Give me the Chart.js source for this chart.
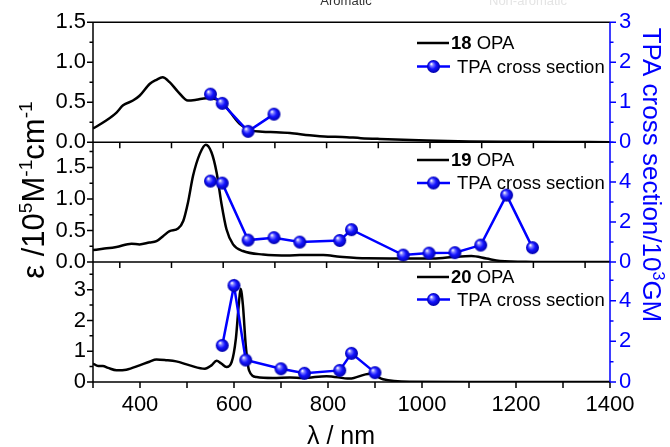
<!DOCTYPE html>
<html>
<head>
<meta charset="utf-8">
<title>OPA e TPA 18-20</title>
<script src="https://cdn.jsdelivr.net/npm/chart.js"></script>
<style>
  html, body { margin: 0; padding: 0; background: #fff; }
</style>
</head>
<body>
<canvas id="grafico" width="670" height="447"></canvas>
<script>
// eixo x (nm)
const xMin = 300, xMax = 1400;
const xTickLabels = [400, 600, 800, 1000, 1200, 1400];
const xMinorTicks = [300, 500, 700, 900, 1100, 1300];
const upperPanelTicks = [357, 467, 577, 687, 797, 907, 1017, 1127, 1237, 1347];

// 18
const opa18Wl  = [300, 328, 350, 364, 385, 399, 421, 435, 448, 463, 481, 502, 520, 541, 570, 591, 612, 634, 660, 690, 719, 761, 800, 830, 870, 910, 1010, 1100, 1200, 1300, 1400];
const opa18Eps = [0.17, 0.27, 0.37, 0.46, 0.52, 0.58, 0.73, 0.78, 0.81, 0.75, 0.63, 0.52, 0.53, 0.55, 0.52, 0.38, 0.23, 0.15, 0.13, 0.125, 0.115, 0.085, 0.068, 0.065, 0.05, 0.04, 0.02, 0.008, 0.004, 0.001, 0];
const tpa18Wl  = [550, 575, 630, 685];
const tpa18Gm  = [1.2, 0.97, 0.27, 0.7];

// 19
const opa19Wl  = [300, 321, 350, 382, 399, 420, 435, 449, 463, 481, 492, 502, 513, 527, 540, 552, 563, 573, 584, 598, 619, 662, 719, 740, 790, 825, 882, 953, 1024, 1073, 1105, 1137, 1166, 1237, 1300, 1400];
const opa19Eps = [0.19, 0.21, 0.24, 0.29, 0.28, 0.31, 0.33, 0.41, 0.49, 0.53, 0.65, 0.94, 1.37, 1.71, 1.86, 1.74, 1.42, 0.94, 0.52, 0.28, 0.175, 0.12, 0.105, 0.11, 0.11, 0.085, 0.06, 0.058, 0.055, 0.085, 0.095, 0.055, 0.018, 0.003, 0, 0];
const tpa19Wl  = [550, 575, 630, 685, 740, 825, 850, 960, 1015, 1070, 1125, 1180, 1235];
const tpa19Gm  = [4.05, 3.95, 1.1, 1.22, 1.0, 1.08, 1.62, 0.35, 0.45, 0.47, 0.85, 3.35, 0.72];

// 20
const opa20Wl  = [300, 311, 321, 332, 350, 371, 399, 420, 435, 455, 477, 506, 538, 552, 563, 573, 584, 595, 604, 610, 614, 619, 625, 632, 648, 683, 719, 747, 797, 846, 889, 917, 974, 1100, 1400];
const opa20Eps = [0.6, 0.52, 0.52, 0.46, 0.38, 0.4, 0.54, 0.66, 0.73, 0.71, 0.67, 0.54, 0.43, 0.54, 0.69, 0.6, 0.49, 0.65, 1.41, 2.49, 3.03, 2.49, 1.19, 0.38, 0.16, 0.13, 0.15, 0.13, 0.19, 0.11, 0.27, 0.09, 0.01, 0.003, 0];
const tpa20Wl  = [575, 600, 625, 700, 750, 825, 850, 900];
const tpa20Gm  = [1.8, 4.75, 1.08, 0.65, 0.43, 0.57, 1.41, 0.46];

// limites e marcas dos eixos y (esquerda: OPA, direita: TPA)
const leftMax    = [1.5, 1.9, 3.9];
const rightMax   = [3, 6, 5.9];
const leftTicks  = [[0, 0.5, 1.0, 1.5], [0, 0.5, 1.0, 1.5], [0, 1, 2, 3]];
const leftMinor  = [0.25, 0.25, 0.5];
const rightTicks = [[0, 1, 2, 3], [0, 2, 4], [0, 2, 4]];
const rightMinor = [0.5, 1, 1];
const compostos  = ['18', '19', '20'];

const FONTE = "'Liberation Sans', Arial, sans-serif";
const AZUL = '#0000ff';

function esfera(r) {
    const c = document.createElement('canvas');
    const d = Math.ceil(r * 2 + 2);
    c.width = d; c.height = d;
    const g = c.getContext('2d');
    const m = d / 2;
    const grad = g.createRadialGradient(m - r * 0.35, m - r * 0.4, r * 0.05, m, m, r);
    grad.addColorStop(0, '#ffffff');
    grad.addColorStop(0.22, '#8080ff');
    grad.addColorStop(0.55, '#1414ff');
    grad.addColorStop(1, '#0000a8');
    g.fillStyle = grad;
    g.beginPath(); g.arc(m, m, r, 0, Math.PI * 2); g.fill();
    return c;
}
const bola = esfera(6.5);

function pontos(xs, ys) {
    return xs.map((x, i) => ({ x: x, y: ys[i] }));
}

const opaData = [pontos(opa18Wl, opa18Eps), pontos(opa19Wl, opa19Eps), pontos(opa20Wl, opa20Eps)];
const tpaData = [pontos(tpa18Wl, tpa18Gm), pontos(tpa19Wl, tpa19Gm), pontos(tpa20Wl, tpa20Gm)];

const datasets = [];
for (let i = 0; i < 3; i++) {
    datasets.push({
        label: 'TPA cross section',
        data: tpaData[i],
        yAxisID: 'yR' + i,
        borderColor: AZUL,
        borderWidth: 2.5,
        pointStyle: bola,
        pointRadius: 6.5,
        order: 0
    });
    datasets.push({
        label: compostos[i] + ' OPA',
        data: opaData[i],
        yAxisID: 'yL' + i,
        borderColor: '#000',
        borderWidth: 2.5,
        pointRadius: 0,
        cubicInterpolationMode: 'monotone',
        order: 1
    });
}

function eixoY(lado, i) {
    const esq = lado === 'left';
    const marcas = esq ? leftTicks[i] : rightTicks[i];
    return {
        type: 'linear',
        position: lado,
        stack: esq ? 'L' : 'R',
        stackWeight: 1,
        weight: esq ? 3 - i : i + 1,
        min: 0,
        max: esq ? leftMax[i] : rightMax[i],
        grid: { display: false, drawTicks: false },
        border: { display: false },
        ticks: {
            color: esq ? '#000' : AZUL,
            font: { family: FONTE, size: 22 },
            padding: esq ? 7 : 9,
            autoSkip: false,
            includeBounds: false,
            callback: v => (esq && i < 2) ? v.toFixed(1) : String(v)
        },
        afterBuildTicks: s => { s.ticks = marcas.map(v => ({ value: v })); },
        afterFit: s => { s.width = esq ? 93 : 60; }
    };
}

const scales = {
    x: {
        type: 'linear',
        position: 'bottom',
        min: xMin,
        max: xMax,
        grid: { display: false, drawTicks: false },
        border: { display: false },
        ticks: {
            color: '#000', font: { family: FONTE, size: 22 }, padding: 10,
            autoSkip: false, maxRotation: 0,
            callback: v => String(v)
        },
        afterBuildTicks: s => { s.ticks = xTickLabels.map(v => ({ value: v })); },
        afterFit: s => { s.height = 65; }
    }
};
for (let i = 0; i < 3; i++) {
    scales['yL' + i] = eixoY('left', i);
    scales['yR' + i] = eixoY('right', i);
}

// texto com sobrescritos: partes [texto, sobrescrito?]
function textoRico(ctx, partes, tam) {
    let w = 0;
    partes.forEach(p => {
        ctx.font = (p[1] ? tam * 0.62 : tam) + 'px ' + FONTE;
        w += ctx.measureText(p[0]).width;
    });
    let x = -w / 2;
    partes.forEach(p => {
        ctx.font = (p[1] ? tam * 0.62 : tam) + 'px ' + FONTE;
        ctx.fillText(p[0], x, p[1] ? -tam * 0.38 : 0);
        x += ctx.measureText(p[0]).width;
    });
}

const molduras = {
    id: 'molduras',
    afterDraw(chart) {
        const ctx = chart.ctx;
        const sx = chart.scales.x;
        const L = chart.chartArea.left, R = chart.chartArea.right;
        ctx.save();
        ctx.lineWidth = 1.5;
        for (let i = 0; i < 3; i++) {
            const yl = chart.scales['yL' + i], yr = chart.scales['yR' + i];
            const topo = yl.getPixelForValue(leftMax[i]);
            const base = yl.getPixelForValue(0);
            ctx.strokeStyle = '#000';
            ctx.beginPath();
            if (i === 0) { ctx.moveTo(L, topo); ctx.lineTo(R, topo); }
            ctx.moveTo(L, base); ctx.lineTo(R, base);
            ctx.moveTo(L, topo); ctx.lineTo(L, base);
            // marcas esquerda
            for (let v = 0; v <= leftMax[i] + 1e-9; v += leftMinor[i]) {
                const y = yl.getPixelForValue(v);
                const maior = leftTicks[i].some(t => Math.abs(t - v) < 1e-9);
                ctx.moveTo(L, y); ctx.lineTo(L - (maior ? 6 : 3.5), y);
            }
            // marcas inferiores
            const marcasX = i === 2 ? xTickLabels.concat(xMinorTicks) : upperPanelTicks;
            marcasX.forEach(v => {
                const x = sx.getPixelForValue(v);
                ctx.moveTo(x, base); ctx.lineTo(x, base + 6);
            });
            ctx.stroke();
            // eixo direito
            ctx.strokeStyle = AZUL;
            ctx.beginPath();
            ctx.moveTo(R, topo); ctx.lineTo(R, base);
            for (let v = 0; v <= rightMax[i] + 1e-9; v += rightMinor[i]) {
                const y = yr.getPixelForValue(v);
                const maior = rightTicks[i].some(t => Math.abs(t - v) < 1e-9);
                ctx.moveTo(R, y); ctx.lineTo(R + (maior ? 6 : 3.5), y);
            }
            ctx.stroke();

            // legenda
            const l1 = [43, 160, 277][i], l2 = [66.5, 183, 299.5][i];
            ctx.lineWidth = 2.5;
            ctx.strokeStyle = '#000';
            ctx.beginPath(); ctx.moveTo(417, l1); ctx.lineTo(449, l1); ctx.stroke();
            ctx.strokeStyle = AZUL;
            ctx.beginPath(); ctx.moveTo(417, l2); ctx.lineTo(450, l2); ctx.stroke();
            ctx.drawImage(bola, 433.5 - bola.width / 2, l2 - bola.height / 2);
            ctx.lineWidth = 1.5;
            ctx.fillStyle = '#000';
            ctx.textBaseline = 'middle';
            ctx.textAlign = 'left';
            ctx.font = 'bold 18.5px ' + FONTE;
            ctx.fillText(compostos[i], 451, l1 + 1);
            const wNum = ctx.measureText(compostos[i]).width;
            ctx.font = '18.5px ' + FONTE;
            ctx.fillText(' OPA', 451 + wNum, l1 + 1);
            ctx.fillText('TPA cross section', 457, l2 + 1);
        }

        // titulos dos eixos
        ctx.textBaseline = 'alphabetic';
        ctx.textAlign = 'left';
        ctx.fillStyle = '#000';
        ctx.save();
        ctx.translate(44, 190);
        ctx.rotate(-Math.PI / 2);
        textoRico(ctx, [['\u03b5 /10', false], ['5', true], ['M', false], ['-1', true], ['cm', false], ['-1', true]], 31);
        ctx.restore();

        ctx.save();
        ctx.fillStyle = AZUL;
        ctx.translate(643, 175);
        ctx.rotate(Math.PI / 2);
        textoRico(ctx, [['TPA cross section/10', false], ['3', true], ['GM', false]], 26);
        ctx.restore();

        ctx.textAlign = 'center';
        ctx.font = '25px ' + FONTE;
        ctx.fillText('\u03bb / nm', 341, 444);

        // titulo cortado no topo
        ctx.font = '13px ' + FONTE;
        ctx.fillStyle = '#333';
        ctx.fillText('Aromatic', 346, 5);
        ctx.fillStyle = '#e4e4e4';
        ctx.fillText('Non-aromatic', 528, 5);
        ctx.restore();
    }
};

new Chart(document.getElementById('grafico'), {
    type: 'line',
    data: { datasets: datasets },
    options: {
        responsive: false,
        animation: false,
        devicePixelRatio: 1,
        layout: { padding: { top: 21, left: 0, right: 0, bottom: 0 } },
        plugins: { legend: { display: false }, tooltip: { enabled: false } },
        scales: scales
    },
    plugins: [molduras]
});
</script>
</body>
</html>
